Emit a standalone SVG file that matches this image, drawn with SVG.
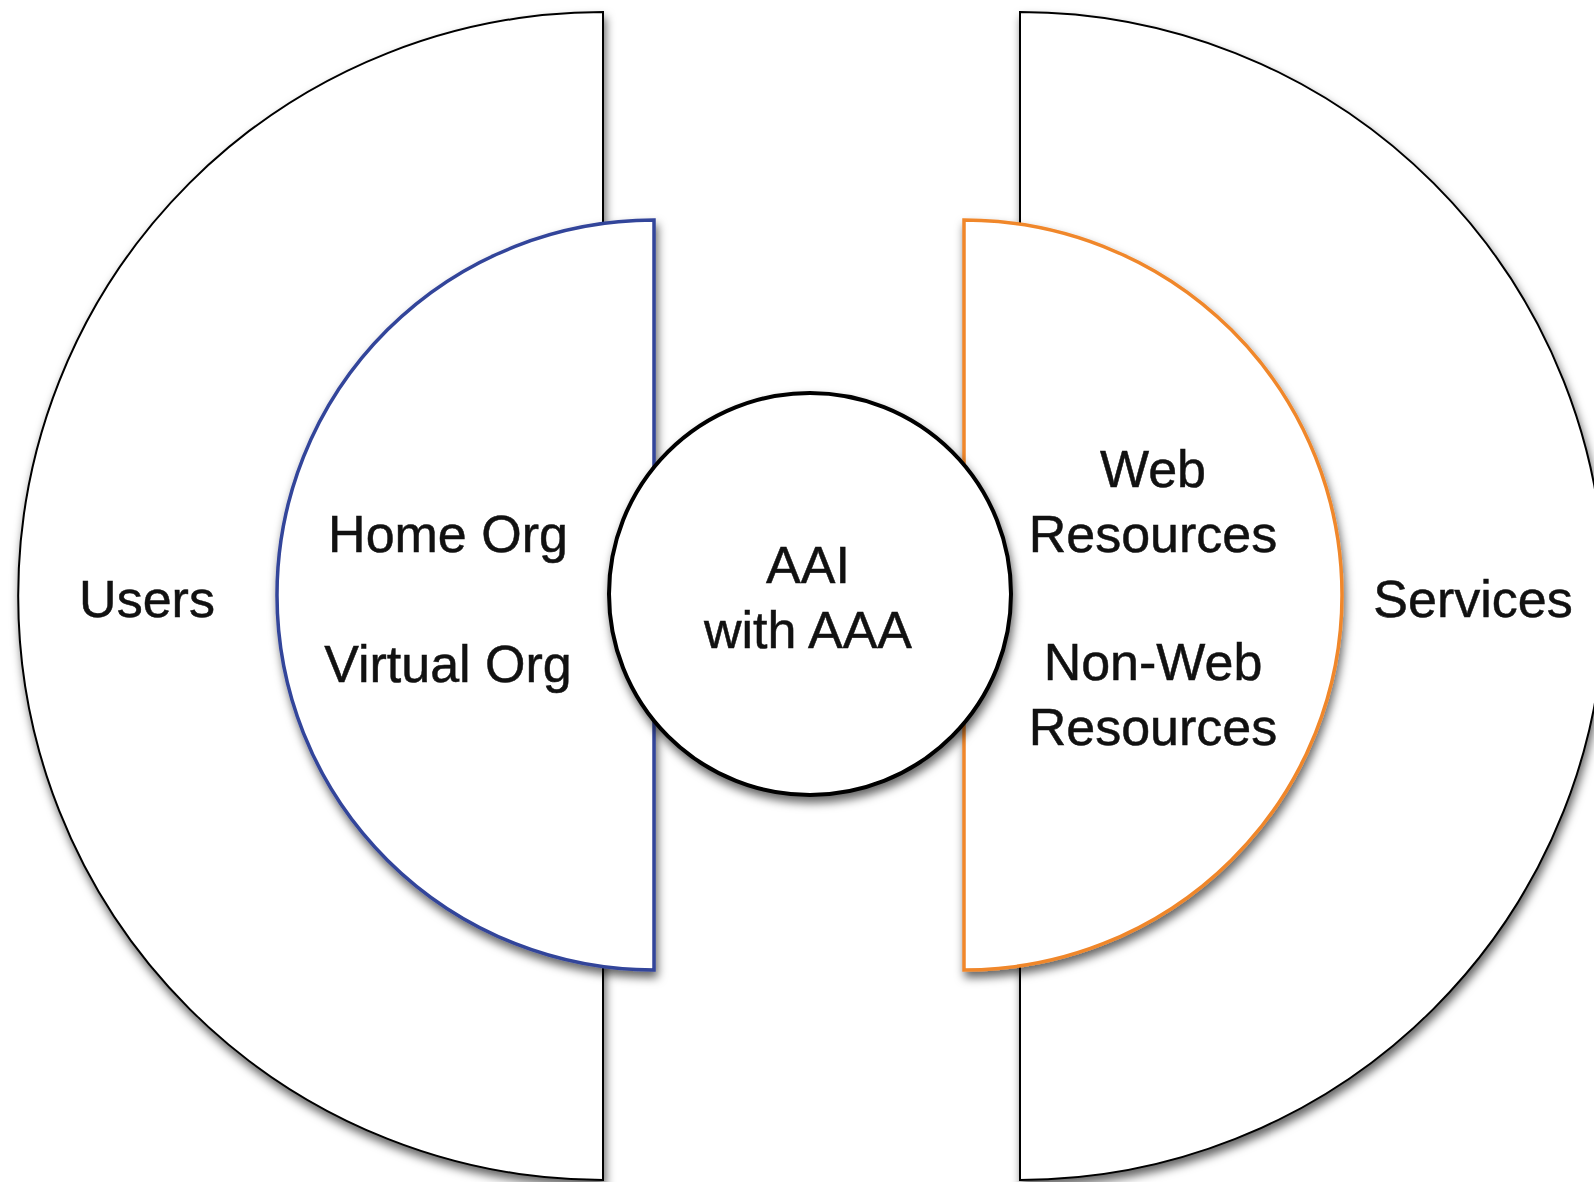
<svg xmlns="http://www.w3.org/2000/svg" width="1594" height="1182" viewBox="0 0 1594 1182">
<defs>
<filter id="shadow" x="-10%" y="-10%" width="120%" height="120%">
<feDropShadow dx="2" dy="6" stdDeviation="5" flood-color="#000" flood-opacity="0.6"/>
</filter>
<style>
.big{fill:#fff;stroke:#000;stroke-width:2;filter:url(#shadow)}
.blue{fill:#fff;stroke:#33449a;stroke-width:3.5;filter:url(#shadow)}
.orange{fill:#fff;stroke:#f0872c;stroke-width:3.5;filter:url(#shadow)}
.core{fill:#fff;stroke:#000;stroke-width:4;filter:url(#shadow)}
text{font-family:"Liberation Sans",Arial,Helvetica,sans-serif;font-size:52px;fill:#111;stroke:#111;stroke-width:0.5;text-anchor:middle}
</style>
</defs>
<rect width="1594" height="1182" fill="#fff"/>
<g id="users">
<path class="big" d="M603 12 A585 584 0 0 0 603 1180 Z"/>
<text x="147" y="617">Users</text>
</g>
<g id="services">
<path class="big" d="M1020 12 A585 584 0 0 1 1020 1180 Z"/>
<text x="1473" y="617">Services</text>
</g>
<g id="orgs">
<path class="blue" d="M654 220 A377 375 0 0 0 654 970 Z"/>
<text x="448" y="552">Home Org</text>
<text x="448" y="682">Virtual Org</text>
</g>
<g id="resources">
<path class="orange" d="M964 220 A378 375 0 0 1 964 970 Z"/>
<text x="1153" y="487">Web</text>
<text x="1153" y="552">Resources</text>
<text x="1153" y="680">Non-Web</text>
<text x="1153" y="745">Resources</text>
</g>
<g id="aai">
<circle class="core" cx="810" cy="594" r="201"/>
<text x="808" y="583">AAI</text>
<text x="808" y="648">with AAA</text>
</g>
<g id="connectors"></g>
</svg>
